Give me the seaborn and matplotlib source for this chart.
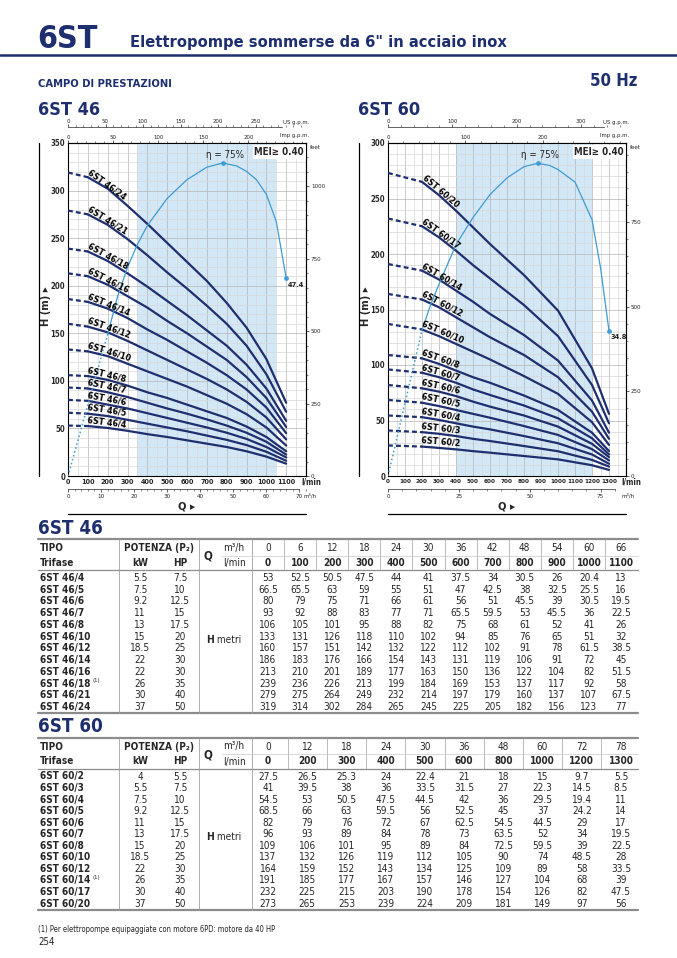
import matplotlib
matplotlib.use("Agg")
import matplotlib.pyplot as plt
from matplotlib import font_manager
from matplotlib.ticker import MultipleLocator
import numpy as np
import pandas as pd
import seaborn as sns

# ─── DATA: 6ST 46 ────────────────────────────────────────────────────────────
FLOW_46 = [0, 100, 200, 300, 400, 500, 600, 700, 800, 900, 1000, 1100]
M3H_46 = [0, 6, 12, 18, 24, 30, 36, 42, 48, 54, 60, 66]
TIPO_46 = ["6ST 46/4", "6ST 46/5", "6ST 46/6", "6ST 46/7", "6ST 46/8", "6ST 46/10",
           "6ST 46/12", "6ST 46/14", "6ST 46/16", "6ST 46/18", "6ST 46/21", "6ST 46/24"]
KW_46 = [5.5, 7.5, 9.2, 11, 13, 15, 18.5, 22, 22, 26, 30, 37]
HP_46 = [7.5, 10, 12.5, 15, 17.5, 20, 25, 30, 30, 35, 40, 50]
H_46 = [
    [53, 52.5, 50.5, 47.5, 44, 41, 37.5, 34, 30.5, 26, 20.4, 13],
    [66.5, 65.5, 63, 59, 55, 51, 47, 42.5, 38, 32.5, 25.5, 16],
    [80, 79, 75, 71, 66, 61, 56, 51, 45.5, 39, 30.5, 19.5],
    [93, 92, 88, 83, 77, 71, 65.5, 59.5, 53, 45.5, 36, 22.5],
    [106, 105, 101, 95, 88, 82, 75, 68, 61, 52, 41, 26],
    [133, 131, 126, 118, 110, 102, 94, 85, 76, 65, 51, 32],
    [160, 157, 151, 142, 132, 122, 112, 102, 91, 78, 61.5, 38.5],
    [186, 183, 176, 166, 154, 143, 131, 119, 106, 91, 72, 45],
    [213, 210, 201, 189, 177, 163, 150, 136, 122, 104, 82, 51.5],
    [239, 236, 226, 213, 199, 184, 169, 153, 137, 117, 92, 58],
    [279, 275, 264, 249, 232, 214, 197, 179, 160, 137, 107, 67.5],
    [319, 314, 302, 284, 265, 245, 225, 205, 182, 156, 123, 77],
]
ETA_Q_46 = [0, 100, 200, 250, 300, 350, 400, 500, 600, 700, 780, 850, 900, 950, 1000, 1050, 1100]
ETA_46 = [0, 17, 34, 43, 50, 55.5, 60, 66.5, 71, 74, 75, 74.3, 73, 71, 67.5, 61, 47.4]

# ─── DATA: 6ST 60 ────────────────────────────────────────────────────────────
FLOW_60 = [0, 200, 300, 400, 500, 600, 800, 1000, 1200, 1300]
M3H_60 = [0, 12, 18, 24, 30, 36, 48, 60, 72, 78]
TIPO_60 = ["6ST 60/2", "6ST 60/3", "6ST 60/4", "6ST 60/5", "6ST 60/6", "6ST 60/7",
           "6ST 60/8", "6ST 60/10", "6ST 60/12", "6ST 60/14", "6ST 60/17", "6ST 60/20"]
KW_60 = [4, 5.5, 7.5, 9.2, 11, 13, 15, 18.5, 22, 26, 30, 37]
HP_60 = [5.5, 7.5, 10, 12.5, 15, 17.5, 20, 25, 30, 35, 40, 50]
H_60 = [
    [27.5, 26.5, 25.3, 24, 22.4, 21, 18, 15, 9.7, 5.5],
    [41, 39.5, 38, 36, 33.5, 31.5, 27, 22.3, 14.5, 8.5],
    [54.5, 53, 50.5, 47.5, 44.5, 42, 36, 29.5, 19.4, 11],
    [68.5, 66, 63, 59.5, 56, 52.5, 45, 37, 24.2, 14],
    [82, 79, 76, 72, 67, 62.5, 54.5, 44.5, 29, 17],
    [96, 93, 89, 84, 78, 73, 63.5, 52, 34, 19.5],
    [109, 106, 101, 95, 89, 84, 72.5, 59.5, 39, 22.5],
    [137, 132, 126, 119, 112, 105, 90, 74, 48.5, 28],
    [164, 159, 152, 143, 134, 125, 109, 89, 58, 33.5],
    [191, 185, 177, 167, 157, 146, 127, 104, 68, 39],
    [232, 225, 215, 203, 190, 178, 154, 126, 82, 47.5],
    [273, 265, 253, 239, 224, 209, 181, 149, 97, 56],
]
ETA_Q_60 = [0, 100, 200, 250, 300, 400, 500, 600, 700, 800, 880, 950, 1000, 1100, 1200, 1250, 1300]
ETA_60 = [0, 17.5, 35, 41, 46, 55.5, 62, 67.5, 71.5, 74.2, 75, 74.5, 73.5, 70.5, 61.5, 50, 34.8]

NOTE = "(1) Per elettropompe equipaggiate con motore 6PD: motore da 40 HP"

# ─── STYLE ───────────────────────────────────────────────────────────────────
NAVY = "#1e2f6f"
ETA_C = "#3d9bd6"
SHADE = "#d3e8f6"
GRID_MIN = "#d8d8d8"
GRID_MAJ = "#b4b4b4"
RULE = "#8c8c8c"
SEP = "#a0a0a0"

sns.set_theme(style="ticks")

# pick the narrowest sans available
_fl = font_manager.fontManager.ttflist
def _has(name, stretch=None):
    return any(f.name == name and (stretch is None or str(f.stretch) == stretch) for f in _fl)

if _has("Liberation Sans Narrow"):
    MAIN, STRETCH = "Liberation Sans Narrow", "normal"
elif _has("DejaVu Sans", "condensed"):
    MAIN, STRETCH = "DejaVu Sans", "condensed"
else:
    MAIN, STRETCH = "Liberation Sans", "normal"
plt.rcParams["font.family"] = [MAIN, "DejaVu Sans"]
plt.rcParams["font.stretch"] = STRETCH
plt.rcParams["axes.linewidth"] = 0.8

W, H = 677, 958
fig = plt.figure(figsize=(W / 100, H / 100), dpi=100, facecolor="white")

# page axes in pixel coords (y down)
pg = fig.add_axes([0, 0, 1, 1])
pg.set_xlim(0, W)
pg.set_ylim(H, 0)
pg.axis("off")


def box(l, t, r, b):
    return [l / W, 1 - b / H, (r - l) / W, (b - t) / H]


# ─── HEADER ──────────────────────────────────────────────────────────────────
pg.text(37, 39, "6ST", fontsize=23, fontweight="bold", color=NAVY, va="center")
pg.text(130, 42, 'Elettropompe sommerse da 6" in acciaio inox', fontsize=11.8,
        fontweight="bold", color=NAVY, va="center")
pg.plot([0, W], [55, 55], color=NAVY, lw=1.8)
pg.text(38, 84, "CAMPO DI PRESTAZIONI", fontsize=8, fontweight="bold", color=NAVY, va="center")
pg.text(638, 81, "50 Hz", fontsize=12, fontweight="bold", color=NAVY, va="center", ha="right")


# ─── CHARTS ──────────────────────────────────────────────────────────────────
def chart(x0, title, flows, heads, names, xmax, ymax, shade, eta_q, eta_v, eta_scale,
          xticks, xfs, ft_ticks, us_major, us_minor, us_end, imp_major, imp_minor,
          m3_major, m3_minor, m3_end, m3_label_x):
    pg.text(x0 - 30, 109.5, title, fontsize=13, fontweight="bold", color=NAVY, va="center")
    ax = fig.add_axes(box(x0, 143, x0 + 238, 476))

    solid = pd.DataFrame([(n, q, h) for n, hs in zip(names, heads)
                          for q, h in zip(flows[1:], hs[1:])], columns=["tipo", "q", "h"])
    dashed = pd.DataFrame([(n, q, h) for n, hs in zip(names, heads)
                           for q, h in zip(flows[:2], hs[:2])], columns=["tipo", "q", "h"])
    sns.lineplot(data=solid, x="q", y="h", units="tipo", estimator=None, sort=False,
                 color=NAVY, lw=1.6, ax=ax, zorder=3)
    sns.lineplot(data=dashed, x="q", y="h", units="tipo", estimator=None, sort=False,
                 color=NAVY, lw=1.6, ax=ax, zorder=3, linestyle=(0, (2.2, 1.4)))
    ax.set_xlabel("")
    ax.set_ylabel("")
    ax.set_xlim(0, xmax)
    ax.set_ylim(0, ymax)

    ax.axvspan(shade[0], shade[1], color=SHADE, lw=0, zorder=0.5)
    for x in range(50, xmax, 50):
        ax.axvline(x, color=GRID_MAJ if x % 100 == 0 else GRID_MIN, lw=0.5, zorder=1)
    for y in range(10, ymax, 10):
        ax.axhline(y, color=GRID_MAJ if y % 50 == 0 else GRID_MIN, lw=0.5, zorder=1)

    # curve labels
    for n, hs in zip(names, heads):
        p1 = ax.transData.transform((flows[1], hs[1]))
        p2 = ax.transData.transform((flows[3], hs[3]))
        ang = np.degrees(np.arctan2(p2[1] - p1[1], p2[0] - p1[0]))
        ax.annotate(n, (flows[1], hs[1]), xytext=(-1, 1.3), textcoords="offset points",
                    rotation=ang, rotation_mode="anchor", ha="left", va="bottom",
                    fontsize=6.4, fontweight="bold", color="black", zorder=6)

    # efficiency curve
    eq = np.array(eta_q)
    ev = np.array(eta_v) * eta_scale
    k = eta_q.index(200)
    ax.plot(eq[:k + 1], ev[:k + 1], ls=":", color=ETA_C, lw=1.1, zorder=4)
    ax.plot(eq[k:], ev[k:], color=ETA_C, lw=0.9, zorder=4)
    ip = int(np.argmax(eta_v))
    ax.plot([eq[ip], eq[-1]], [ev[ip], ev[-1]], "o", ms=2.4, color=ETA_C, zorder=5)
    ax.annotate(f"η = {eta_v[ip]:g}%", (eq[ip], ev[ip]), xytext=(2, 2.5),
                textcoords="offset points", ha="center", va="bottom", fontsize=7, zorder=6)
    ax.annotate(f"{eta_v[-1]:g}", (eq[-1], ev[-1]), xytext=(1, -2.5), textcoords="offset points",
                ha="left", va="top", fontsize=5.3, fontweight="bold", zorder=6)
    ax.text(0.992, 0.988, "MEI≥ 0.40", transform=ax.transAxes, ha="right", va="top",
            fontsize=7, fontweight="bold", zorder=7,
            bbox=dict(fc="white", ec="none", pad=1.2))

    # main ticks
    ax.set_xticks(xticks)
    ax.set_xticklabels([str(v) for v in xticks], fontsize=xfs, fontweight="bold")
    yt = list(range(0, ymax + 1, 50))
    ax.set_yticks(yt)
    ax.set_yticklabels([str(v) for v in yt], fontsize=5.6, fontweight="bold")
    ax.tick_params(axis="both", length=0, pad=2)
    for sp in ax.spines.values():
        sp.set_visible(True)
        sp.set_color("black")
        sp.set_linewidth(0.8)

    # feet axis
    ry = ax.secondary_yaxis("right", functions=(lambda m: m * 3.28084, lambda f: f / 3.28084))
    ry.set_yticks(ft_ticks)
    ry.yaxis.set_minor_locator(MultipleLocator(50))
    ry.tick_params(which="major", length=2.5, width=0.5, labelsize=4.5, pad=1)
    ry.tick_params(which="minor", length=1.5, width=0.4)
    pg.text(x0 + 242, 147, "feet", fontsize=4.5, va="center", ha="left")

    # Imp g.p.m. on top spine
    imp = ax.secondary_xaxis("top", functions=(lambda q: q * 0.219969, lambda g: g / 0.219969))
    imp.set_xticks(imp_major)
    imp.xaxis.set_minor_locator(MultipleLocator(imp_minor))
    imp.tick_params(which="major", length=2.2, width=0.5, labelsize=4.3, pad=0.3)
    imp.tick_params(which="minor", length=1.5, width=0.4)
    imp.tick_params(which="both", bottom=False, labelbottom=False, top=True, labeltop=True)
    pg.text(x0 + 241, 135.5, "Imp g.p.m.", fontsize=4.3, va="center", ha="right",
            bbox=dict(fc="white", ec="none", pad=0.3))

    # US g.p.m. line above
    us = ax.secondary_xaxis(1 + 16 / 333, functions=(lambda q: q * 0.264172, lambda g: g / 0.264172))
    us.set_xticks(us_major)
    us.xaxis.set_minor_locator(MultipleLocator(us_minor))
    us.tick_params(which="major", length=2.0, width=0.5, labelsize=4.3, pad=0.3)
    us.tick_params(which="minor", length=1.4, width=0.4)
    us.tick_params(which="both", bottom=False, labelbottom=False, top=True, labeltop=True)
    for sp in ("top", "bottom"):
        us.spines[sp].set_bounds(0, us_end)
        us.spines[sp].set_linewidth(0.5)
    pg.text(x0 + 241, 122, "US g.p.m.", fontsize=4.3, va="center", ha="right")

    # m3/h line below
    m3 = ax.secondary_xaxis(-13 / 333, functions=(lambda q: q * 0.06, lambda v: v / 0.06))
    m3.set_xticks(m3_major)
    m3.xaxis.set_minor_locator(MultipleLocator(m3_minor))
    m3.tick_params(which="major", length=2.5, width=0.5, labelsize=4.5, pad=1)
    m3.tick_params(which="minor", length=1.5, width=0.4)
    m3.tick_params(which="both", top=False, labeltop=False, bottom=True, labelbottom=True)
    for sp in ("top", "bottom"):
        m3.spines[sp].set_bounds(0, m3_end)
        m3.spines[sp].set_linewidth(0.5)
    pg.text(m3_label_x, 495.5, "m³/h", fontsize=4.5, va="center", ha="left")

    pg.text(x0 + 233, 482, "l/min", fontsize=5.6, fontweight="bold", va="center", ha="left")
    pg.text(x0 + 119, 506, "Q ▸", fontsize=8, fontweight="bold", va="center", ha="center")
    pg.plot([x0, x0 + 238], [514, 514], color="black", lw=0.9)
    pg.text(x0 - 22, 306, "H (m) ▸", fontsize=8, fontweight="bold", va="center",
            ha="center", rotation=90)
    pg.plot([x0 - 29, x0 - 29], [143, 476], color="black", lw=0.9)
    return ax


chart(68, "6ST 46", FLOW_46, H_46, TIPO_46, 1200, 350, (350, 1050), ETA_Q_46, ETA_46, 329 / 75,
      FLOW_46, 5.2, [0, 250, 500, 750, 1000], list(range(0, 251, 50)), 10, 285,
      list(range(0, 201, 50)), 10, list(range(0, 71, 10)), 2, 70, 303)
chart(388, "6ST 60", FLOW_60, H_60, TIPO_60, 1400, 300, (400, 1200), ETA_Q_60, ETA_60, 281.7 / 75,
      list(range(0, 1301, 100)), 4.6, [0, 250, 500, 750], [0, 100, 200, 300], 20, 335,
      [0, 100, 200], 20, [0, 25, 50, 75], 5, 80, 621)


# ─── TABLES ──────────────────────────────────────────────────────────────────
def table(top, title, names, kw, hp, m3h, lpm, heads, step, note_idx):
    xc = np.linspace(268, 621, len(lpm))
    pg.text(38, top - 11, title, fontsize=13.5, fontweight="bold", color=NAVY, va="center")
    r1, r2, hl = top + 9, top + 24, top + 31
    rows_y = [top + 39 + i * step for i in range(len(names))]
    bot = rows_y[-1] + 6
    pg.plot([38, 638], [top, top], color=RULE, lw=1.6)
    pg.plot([38, 638], [hl, hl], color=RULE, lw=0.9)
    pg.plot([38, 638], [bot, bot], color=RULE, lw=1.6)
    for x in (119, 199, 252):
        pg.plot([x, x], [top, bot], color=SEP, lw=0.6)
    for a, b in zip(xc[:-1], xc[1:]):
        pg.plot([(a + b) / 2] * 2, [top, hl], color=SEP, lw=0.5)
    pg.plot([222, 638], [top + 16.5] * 2, color="#c8c8c8", lw=0.5)

    fs = 7.2
    pg.text(40, r1, "TIPO", fontsize=fs, fontweight="bold", va="center")
    pg.text(40, r2, "Trifase", fontsize=fs, fontweight="bold", va="center")
    pg.text(159, r1, "POTENZA (P₂)", fontsize=fs, fontweight="bold", va="center", ha="center")
    pg.text(140, r2, "kW", fontsize=fs, fontweight="bold", va="center", ha="center")
    pg.text(180, r2, "HP", fontsize=fs, fontweight="bold", va="center", ha="center")
    pg.text(208, top + 17, "Q", fontsize=8.5, fontweight="bold", va="center", ha="center")
    pg.text(223, r1, "m³/h", fontsize=fs, va="center")
    pg.text(223, r2, "l/min", fontsize=fs, va="center")
    for x, a, b in zip(xc, m3h, lpm):
        pg.text(x, r1, f"{a:g}", fontsize=fs, va="center", ha="center")
        pg.text(x, r2, f"{b:g}", fontsize=fs, fontweight="bold", va="center", ha="center")

    for i, (y, n, k, h, hs) in enumerate(zip(rows_y, names, kw, hp, heads)):
        t = pg.text(40, y, n, fontsize=fs, fontweight="bold", va="center")
        if i == note_idx:
            pg.annotate("(1)", xy=(1, 1), xycoords=t, xytext=(1.5, 0.5),
                        textcoords="offset points", va="top", ha="left", fontsize=4.3)
        pg.text(140, y, f"{k:g}", fontsize=fs, va="center", ha="center")
        pg.text(180, y, f"{h:g}", fontsize=fs, va="center", ha="center")
        for x, v in zip(xc, hs):
            pg.text(x, y, f"{v:g}", fontsize=fs, va="center", ha="center")

    hy = (rows_y[5] + rows_y[6]) / 2 - 3
    t = pg.text(206, hy, "H", fontsize=fs + 0.3, fontweight="bold", va="center")
    pg.annotate(" metri", xy=(1, 0.5), xycoords=t, va="center", ha="left", fontsize=fs)


table(539, "6ST 46", TIPO_46, KW_46, HP_46, M3H_46, FLOW_46, H_46, 11.73, 9)
table(737.5, "6ST 60", TIPO_60, KW_60, HP_60, M3H_60, FLOW_60, H_60, 11.55, 9)

pg.text(38, 929, NOTE, fontsize=5.5, va="center")
pg.text(38, 942, "254", fontsize=7, va="center")

fig.savefig("out.png", dpi=100, facecolor="white")
